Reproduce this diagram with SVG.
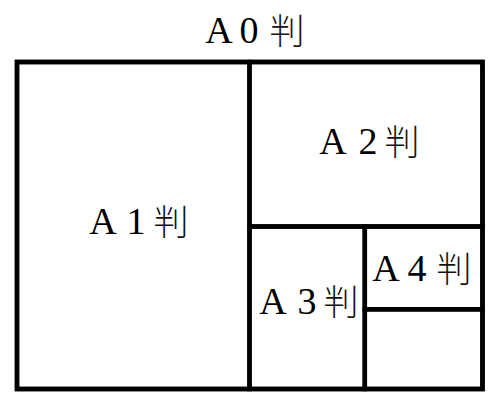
<svg xmlns="http://www.w3.org/2000/svg" width="492" height="408" viewBox="0 0 492 408">
<style>
.sheet{fill:none;stroke:#000;stroke-width:4.5;stroke-linejoin:miter}
.lat{font-family:"Liberation Serif","DejaVu Serif",serif;font-size:38px;fill:#000;text-anchor:middle}
.cjk{font-family:"Noto Sans CJK JP","Noto Sans CJK SC",sans-serif;font-size:35px;font-weight:300;fill:#111;text-anchor:middle}
</style>
<rect width="492" height="408" fill="#fff"/>
<g id="A0">
<rect class="sheet" x="17" y="62" width="465.5" height="327"/>
<text class="lat" x="219" y="43">A</text><text class="lat" x="249" y="43">0</text><text class="cjk" x="287" y="44">判</text>
</g>
<g id="A1">
<rect class="sheet" x="17" y="62" width="232.5" height="327"/>
<text class="lat" x="103" y="234">A</text><text class="lat" x="136" y="234">1</text><text class="cjk" x="171" y="235">判</text>
</g>
<g id="A2">
<rect class="sheet" x="249.5" y="62" width="233" height="164.5"/>
<text class="lat" x="333" y="154">A</text><text class="lat" x="368" y="154">2</text><text class="cjk" x="402" y="155">判</text>
</g>
<g id="A3">
<rect class="sheet" x="249.5" y="226.5" width="115.3" height="162.5"/>
<text class="lat" x="273" y="314">A</text><text class="lat" x="307" y="314">3</text><text class="cjk" x="341" y="315">判</text>
</g>
<g id="A4">
<rect class="sheet" x="364.8" y="226.5" width="117.7" height="82.8"/>
<text class="lat" x="386" y="281">A</text><text class="lat" x="417" y="281">4</text><text class="cjk" x="454" y="282">判</text>
</g>
<g id="A5">
<rect class="sheet" x="364.8" y="309.3" width="117.7" height="79.7"/>
</g>
</svg>
